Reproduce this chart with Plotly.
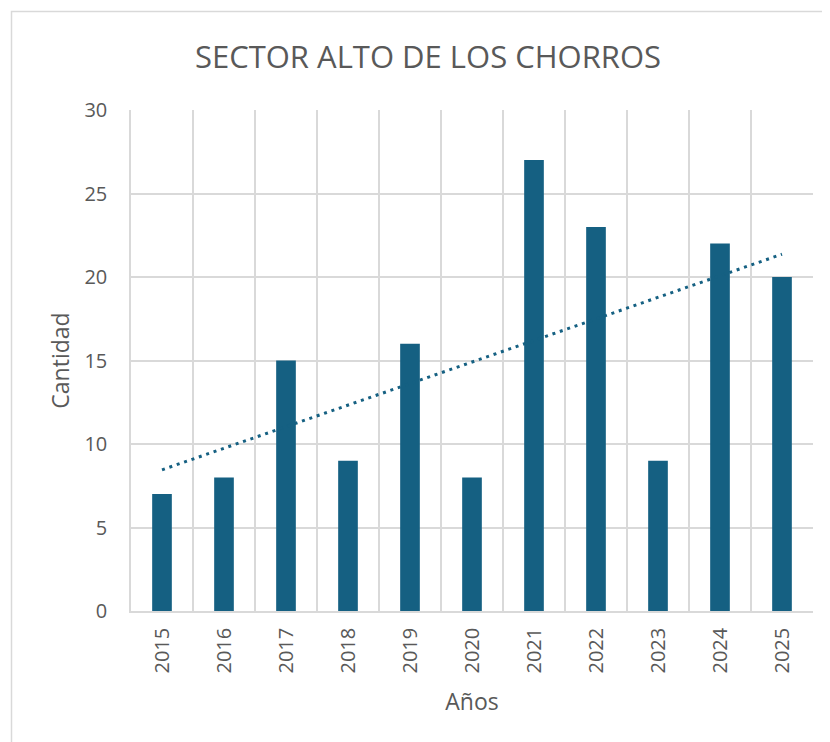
import plotly.graph_objects as go
import numpy as np

years = ["2015", "2016", "2017", "2018", "2019", "2020", "2021", "2022", "2023", "2024", "2025"]
cantidad = [7, 8, 15, 9, 16, 8, 27, 23, 9, 22, 20]

# Linear trendline (least squares, as in the spreadsheet)
xi = np.arange(len(cantidad))
slope, intercept = np.polyfit(xi, cantidad, 1)
trend = list(slope * xi + intercept)

FONT = "Open Sans"
TXT = "#595959"
BAR = "#156082"
GRID = "#d9d9d9"

fig = go.Figure()
fig.add_trace(go.Bar(x=years, y=cantidad, marker=dict(color=BAR, line=dict(width=0)),
                     showlegend=False, hoverinfo="x+y"))
fig.add_trace(go.Scatter(x=years, y=trend, mode="lines",
                         line=dict(color=BAR, width=3, dash="3px,4.8px"),
                         showlegend=False, hoverinfo="skip"))

# page body has an 8px margin; figure coordinates are page coordinates minus 8
OFF = 8
W, H = 830 - OFF, 742 - OFF
L, R, T, B = 131 - OFF, 17, 110 - OFF, 131
pw, ph = W - L - R, H - T - B

def px(x):
    return (x - OFF - L) / pw

def py(y):
    return (H - B - (y - OFF)) / ph

fig.update_layout(
    width=W, height=H,
    margin=dict(l=L, r=R, t=T, b=B, autoexpand=False),
    paper_bgcolor="white", plot_bgcolor="white",
    bargap=0.683,
    font=dict(family=FONT, color=TXT, size=20),
    title=dict(text="SECTOR ALTO DE LOS CHORROS", x=(428 - OFF) / W, xanchor="center",
               y=1 - (57 - OFF) / H, yanchor="middle", yref="container",
               font=dict(family=FONT, size=31, color=TXT)),
    xaxis=dict(type="category", tickson="boundaries", showgrid=True, gridcolor=GRID,
               gridwidth=1.5, showline=True, linecolor=GRID, linewidth=1.5,
               ticks="", tickangle=-90, ticklabelstandoff=7,
               tickfont=dict(size=20, color=TXT),
               title=dict(text="Años", font=dict(size=23, color=TXT), standoff=21),
               mirror=False, zeroline=False),
    yaxis=dict(range=[0, 30], dtick=5, showgrid=True, gridcolor=GRID, gridwidth=1.5,
               showline=True, linecolor=GRID, linewidth=1.5, ticks="",
               ticklabelstandoff=18, tickfont=dict(size=20, color=TXT),
               title=dict(text="Cantidad", font=dict(size=23, color=TXT), standoff=8),
               zeroline=False),
    shapes=[dict(type="rect", xref="paper", yref="paper",
                 x0=px(11.5), x1=px(840), y0=py(760), y1=py(11.5),
                 line=dict(color="#d9d9d9", width=1.5), fillcolor="rgba(0,0,0,0)",
                 layer="below")],
)

fig.write_html("out.html")
